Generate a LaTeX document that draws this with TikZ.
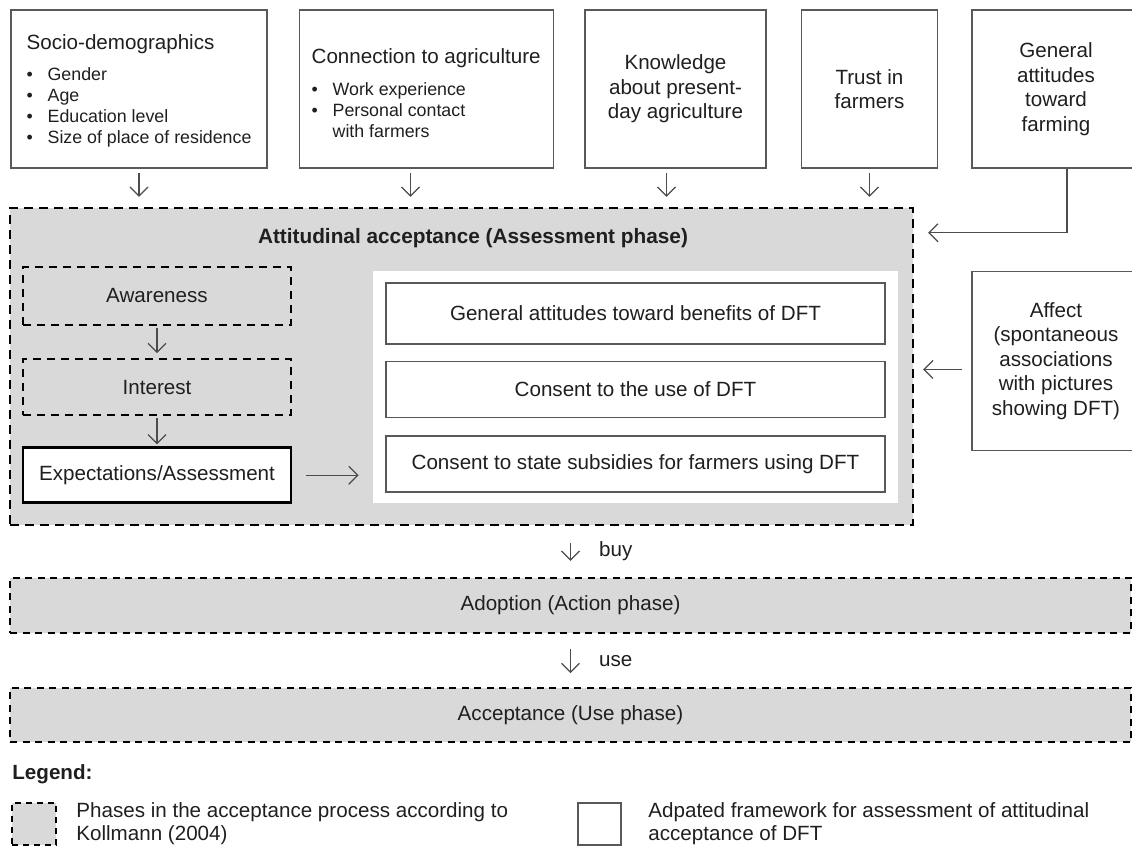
\documentclass[tikz,border=0pt]{standalone}
\usepackage{fontspec}
\setmainfont{Liberation Sans}
\usetikzlibrary{arrows.meta,positioning,calc}

\newcommand{\itm}[1]{\makebox[10.5pt][l]{\textbullet}#1}

\begin{document}
\begin{tikzpicture}[
  x=0.5pt, y=-0.5pt,
  font=\fontsize{10.3}{12.3}\selectfont, text=black!88,
  factor/.style={draw=black!65, line width=0.75pt, minimum height=79pt,
                 inner sep=2pt, align=center},
  phase/.style={draw=black, dash pattern=on 4.5pt off 3pt, line width=1.15pt,
                fill=black!15},
  stagebox/.style={draw=black, dash pattern=on 4pt off 3pt, line width=1.15pt,
                   minimum width=134pt, minimum height=29pt},
  frame/.style={draw=black!65, line width=0.75pt, fill=white,
                minimum width=249.5pt, minimum height=28pt},
  list/.style={anchor=west, align=left, inner sep=0pt,
               font=\fontsize{8.9}{10.5}\selectfont},
  arr/.style={-{Straight Barb[length=4.5pt,width=9pt]}, draw=black!70, line width=0.6pt},
  node distance=8pt and 16pt
]
\useasboundingbox (0,0) rectangle (1132,849);

% influencing factors
\node[factor, minimum width=128pt] (socio) at (139,89) {};
\node[factor, minimum width=127pt, right=15.5pt of socio] (conn) {};
\node[factor, minimum width=90.5pt, right=15pt of conn] (know) {Knowledge\\about present-\\day agriculture};
\node[factor, minimum width=68pt, right=17pt of know] (trust) {Trust in\\farmers};
\node[factor, minimum width=84pt, right=16.5pt of trust] (gen) {General\\attitudes\\toward\\farming};
\node[factor, minimum width=84pt, minimum height=89.5pt, below=51pt of gen] (affect)
  {Affect\\(spontaneous\\associations\\with pictures\\showing DFT)};

\node[list] (sociotxt) at ([xshift=8pt,yshift=-1pt]socio.west)
  {{\fontsize{10.3}{12}\selectfont Socio-demographics}\\[5pt]
   \itm{Gender}\\ \itm{Age}\\ \itm{Education level}\\ \itm{Size of place of residence}};
\node[list] (conntxt) at ([xshift=6.25pt,yshift=-2pt]conn.west)
  {{\fontsize{10.3}{12}\selectfont Connection to agriculture}\\[5.5pt]
   \itm{Work experience}\\ \itm{Personal contact}\\ \hspace*{10.5pt}with farmers};

% assessment phase
\node[phase, minimum width=451.5pt, minimum height=158.5pt] (main) at (461.5,366.5) {};
\node[font=\bfseries\fontsize{10.4}{12}\selectfont] (maintitle) at (473,238)
  {Attitudinal acceptance (Assessment phase)};

\node[stagebox] (aware) at (157,296) {Awareness};
\node[stagebox, minimum height=28pt, below=16pt of aware] (inter) {Interest};
\node[stagebox, solid, line width=1.4pt, fill=white, minimum height=27.5pt,
      below=15pt of inter] (expect) {Expectations/Assessment};

\node[fill=white, minimum width=262.5pt, minimum height=116pt] (panel) at (635.5,387.5) {};
\node[frame, minimum height=30.5pt] (benefit) at (635.5,313.5) {General attitudes toward benefits of DFT};
\node[frame, below=8pt of benefit] (consent) {Consent to the use of DFT};
\node[frame, below=8.5pt of consent] (subsidy) {Consent to state subsidies for farmers using DFT};

% action and use phase
\node[phase, minimum width=560.5pt, minimum height=27.5pt, dash pattern=on 3.5pt off 2.75pt]
  (adopt) at (570.5,605.5) {Adoption (Action phase)};
\node[phase, minimum width=560.5pt, minimum height=27pt, dash pattern=on 3.5pt off 2.75pt,
      below=26.5pt of adopt] (accept) {Acceptance (Use phase)};

% legend
\node[anchor=west, inner sep=0pt, font=\bfseries\fontsize{10.3}{12}\selectfont] (legend) at (12,774) {Legend:};
\node[phase, minimum width=22pt, minimum height=21pt, dash pattern=on 3pt off 2.5pt] (keyphase) at (34,824) {};
\node[anchor=west, align=left, inner sep=0pt, font=\fontsize{10.3}{11.5}\selectfont] (keyphasetxt) at (76,824)
  {Phases in the acceptance process according to\\Kollmann (2004)};
\node[draw=black!65, line width=0.75pt, minimum width=21.5pt, minimum height=21pt] (keyframe) at (599.5,824) {};
\node[anchor=west, align=left, inner sep=0pt, font=\fontsize{10.3}{11.5}\selectfont] (keyframetxt) at (648,824)
  {Adpated framework for assessment of attitudinal\\acceptance of DFT};

% connectors
\draw[arr, shorten <=2pt, shorten >=5pt] (socio.south) -- (socio.south |- main.north);
\draw[arr, shorten <=2pt, shorten >=5pt] ([xshift=-8pt]conn.south) -- ([xshift=-8pt]conn.south |- main.north);
\draw[arr, shorten <=2pt, shorten >=5pt] ([xshift=-4.5pt]know.south) -- ([xshift=-4.5pt]know.south |- main.north);
\draw[arr, shorten <=2pt, shorten >=5pt] (trust.south) -- (trust.south |- main.north);
\draw[arr, shorten >=7pt] ([xshift=5.5pt]gen.south) |- ([yshift=-13pt]main.north east);
\draw[arr, shorten <=4.5pt, shorten >=4.5pt] ([yshift=-4.25pt]affect.west) -- ([yshift=-4.25pt]affect.west -| main.east);

\draw[arr, shorten <=1pt, shorten >=2.5pt] (aware) -- (inter);
\draw[arr, shorten <=1pt, shorten >=1pt] (inter) -- (expect);
\draw[arr, shorten <=7pt, shorten >=7pt] (expect) -- (expect -| panel.west);

\draw[arr, shorten <=8.5pt, shorten >=8pt] (adopt.north |- main.south) --
  node[right=14pt, inner sep=0pt] (buy) {buy} (adopt.north);
\draw[arr, shorten <=7.5pt, shorten >=7pt] (adopt) --
  node[right=14pt, inner sep=0pt] (use) {use} (accept);
\end{tikzpicture}
\end{document}
